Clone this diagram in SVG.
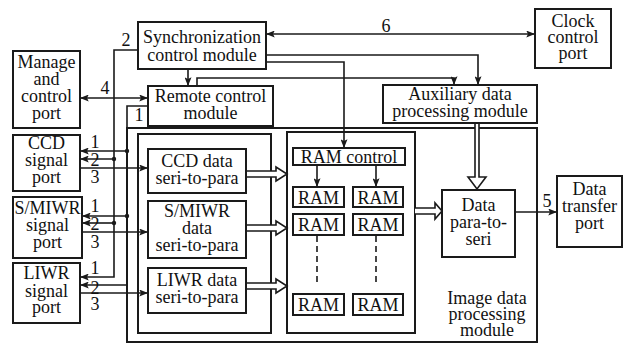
<svg xmlns="http://www.w3.org/2000/svg" width="624" height="345" viewBox="0 0 624 345">
<style>
.b{fill:#fff;stroke:#1a1a1a;stroke-width:2}
.g{fill:none;stroke:#1a1a1a;stroke-width:2}
.t{font-size:18px;fill:#111;text-anchor:middle}
.c{fill:none;stroke:#1a1a1a;stroke-width:1.6}
.h{fill:#fff;stroke:#1a1a1a;stroke-width:1.6;stroke-linejoin:miter}
.d{fill:none;stroke:#1a1a1a;stroke-width:1.6;stroke-dasharray:6 4}
</style>
<defs>
<marker id="ah" viewBox="0 0 10 8" refX="10" refY="4" markerWidth="9" markerHeight="7" orient="auto-start-reverse" markerUnits="userSpaceOnUse"><path d="M0,0 L10,4 L0,8 L2,4 z" fill="#1a1a1a"/></marker>
</defs>
<rect width="624" height="345" fill="#fff"/>
<g font-family="'Liberation Serif', 'Times New Roman', 'DejaVu Serif', serif">
<g id="image-module"><rect class="g" x="127" y="128" width="410" height="214"/>
<text class="t" x="487" y="304">Image data<tspan x="487" dy="16">processing</tspan><tspan x="487" dy="16">module</tspan></text></g>
<g id="seri-group"><rect class="g" x="138" y="134" width="133" height="199"/></g>
<g id="ram-group"><rect class="g" x="287" y="132" width="128" height="201"/></g>

<g id="connectors">
<line class="c" x1="266" y1="34" x2="535" y2="34" marker-start="url(#ah)" marker-end="url(#ah)"/>
<path class="c" d="M266,55 H478 V85" marker-end="url(#ah)"/>
<path class="c" d="M266,62 H344 V148" marker-end="url(#ah)"/>
<path class="c" d="M197,86 V78 H454 V85" marker-end="url(#ah)"/>
<path class="c" d="M188,69 V86" marker-end="url(#ah)"/>
<line class="c" x1="80" y1="98" x2="148" y2="98" marker-start="url(#ah)" marker-end="url(#ah)"/>
<path class="c" d="M138,50 H114 V277 H80" marker-end="url(#ah)"/>
<path class="c" d="M114,159 H80" marker-end="url(#ah)"/>
<path class="c" d="M114,223 H82" marker-end="url(#ah)"/>
<path class="c" d="M148,106 H127 V285 H80" marker-end="url(#ah)"/>
<path class="c" d="M127,151 H80" marker-end="url(#ah)"/>
<path class="c" d="M127,216 H82" marker-end="url(#ah)"/>
<path class="c" d="M80,168 H148" marker-end="url(#ah)"/>
<path class="c" d="M82,232 H148" marker-end="url(#ah)"/>
<path class="c" d="M80,293 H148" marker-end="url(#ah)"/>
<circle cx="127" cy="151" r="2.2" fill="#1a1a1a"/><circle cx="114" cy="159" r="2.2" fill="#1a1a1a"/>
<circle cx="127" cy="216" r="2.2" fill="#1a1a1a"/><circle cx="114" cy="223" r="2.2" fill="#1a1a1a"/>
<path class="c" d="M317,165 V187" marker-end="url(#ah)"/>
<path class="c" d="M376,165 V187" marker-end="url(#ah)"/>
<path class="d" d="M317,236 V285"/>
<path class="d" d="M376,236 V285"/>
<path class="c" d="M515,212 H557" marker-end="url(#ah)"/>
<path class="h" d="M246,171 H276 V167 L287,174 L276,181 V177 H246"/>
<path class="h" d="M246,225 H276 V221 L287,228 L276,235 V231 H246"/>
<path class="h" d="M246,283 H276 V279 L287,286 L276,293 V289 H246"/>
<path class="h" d="M415,208 H435 V203 L442,211 L435,219 V214 H415"/>
<path class="h" d="M475,123 V177 H468 L477,189 L486,177 H479 V123"/>
<text class="t" x="386" y="32">6</text>
<text class="t" x="126" y="46">2</text>
<text class="t" x="105" y="94">4</text>
<text class="t" x="139" y="121">1</text>
<text class="t" x="547" y="207">5</text>
<text class="t" x="95" y="148">1<tspan x="95" dy="18">2</tspan><tspan x="95" dy="17">3</tspan></text>
<text class="t" x="95" y="212">1<tspan x="95" dy="18">2</tspan><tspan x="95" dy="18">3</tspan></text>
<text class="t" x="95" y="274">1<tspan x="95" dy="20">2</tspan><tspan x="95" dy="16">3</tspan></text>
</g>

<g id="sync"><rect class="b" x="138" y="22" width="128" height="47"/><text class="t" x="202" y="43">Synchronization<tspan x="202" dy="18">control module</tspan></text></g>
<g id="clock"><rect class="b" x="535" y="9" width="76" height="59"/><text class="t" x="573" y="27">Clock<tspan x="573" dy="16">control</tspan><tspan x="573" dy="16">port</tspan></text></g>
<g id="manage"><rect class="b" x="13" y="51" width="67" height="77"/><text class="t" x="46.5" y="68">Manage<tspan x="46.5" dy="17">and</tspan><tspan x="46.5" dy="17">control</tspan><tspan x="46.5" dy="17">port</tspan></text></g>
<g id="remote"><rect class="b" x="148" y="86" width="125" height="40"/><text class="t" x="210.5" y="102">Remote control<tspan x="210.5" dy="17">module</tspan></text></g>
<g id="aux"><rect class="b" x="383" y="85" width="154" height="38"/><text class="t" x="460" y="100">Auxiliary data<tspan x="460" dy="17">processing module</tspan></text></g>
<g id="ccd-port"><rect class="b" x="13" y="135" width="67" height="56"/><text class="t" x="46.5" y="149">CCD<tspan x="46.5" dy="17">signal</tspan><tspan x="46.5" dy="17">port</tspan></text></g>
<g id="smiwr-port"><rect class="b" x="13" y="197" width="69" height="61"/><text class="t" x="47.5" y="214">S/MIWR<tspan x="47.5" dy="17">signal</tspan><tspan x="47.5" dy="17">port</tspan></text></g>
<g id="liwr-port"><rect class="b" x="13" y="263" width="67" height="60"/><text class="t" x="46.5" y="279">LIWR<tspan x="46.5" dy="18">signal</tspan><tspan x="46.5" dy="16">port</tspan></text></g>
<g id="ccd-data"><rect class="b" x="148" y="149" width="98" height="44"/><text class="t" x="197" y="167">CCD data<tspan x="197" dy="17">seri-to-para</tspan></text></g>
<g id="smiwr-data"><rect class="b" x="148" y="201" width="98" height="57"/><text class="t" x="197" y="217">S/MIWR<tspan x="197" dy="17">data</tspan><tspan x="197" dy="17">seri-to-para</tspan></text></g>
<g id="liwr-data"><rect class="b" x="148" y="268" width="98" height="45"/><text class="t" x="197" y="286">LIWR data<tspan x="197" dy="17">seri-to-para</tspan></text></g>
<g id="ram-control"><rect class="b" x="293" y="148" width="112" height="17"/><text class="t" x="349" y="163">RAM control</text></g>
<g id="ram-1a"><rect class="b" x="293" y="187" width="51" height="20"/><text class="t" x="318.5" y="204">RAM</text></g>
<g id="ram-1b"><rect class="b" x="353" y="187" width="50" height="20"/><text class="t" x="378" y="204">RAM</text></g>
<g id="ram-2a"><rect class="b" x="293" y="214" width="51" height="21"/><text class="t" x="318.5" y="231">RAM</text></g>
<g id="ram-2b"><rect class="b" x="353" y="214" width="50" height="21"/><text class="t" x="378" y="231">RAM</text></g>
<g id="ram-na"><rect class="b" x="293" y="294" width="51" height="21"/><text class="t" x="318.5" y="311">RAM</text></g>
<g id="ram-nb"><rect class="b" x="353" y="294" width="50" height="21"/><text class="t" x="378" y="311">RAM</text></g>
<g id="para-to-seri"><rect class="b" x="442" y="190" width="73" height="67"/><text class="t" x="478.5" y="211">Data<tspan x="478.5" dy="17">para-to-</tspan><tspan x="478.5" dy="17">seri</tspan></text></g>
<g id="transfer"><rect class="b" x="557" y="176" width="65" height="71"/><text class="t" x="589.5" y="195">Data<tspan x="589.5" dy="17">transfer</tspan><tspan x="589.5" dy="17">port</tspan></text></g>
</g>
</svg>
